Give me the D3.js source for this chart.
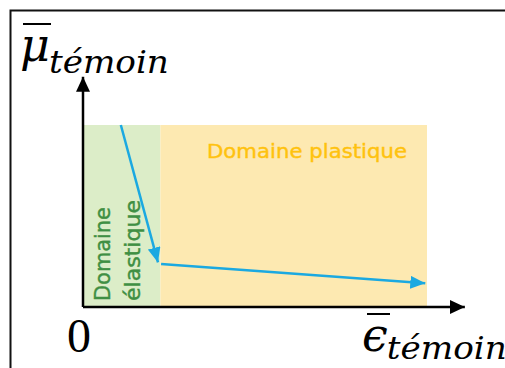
<!DOCTYPE html>
<html>
<head>
<meta charset="utf-8">
<script src="https://cdn.jsdelivr.net/npm/d3@7"></script>
<style>
html,body{margin:0;padding:0;background:#fff;}
svg{display:block;}
</style>
</head>
<body>
<svg id="chart" width="505" height="368"></svg>
<script>
// Domains (regions) along the strain axis
const domainNames = ["Domaine élastique", "Domaine plastique"];
const domainStart = [0, 0.225];
const domainEnd = [0.225, 1];
const domainColors = ["#dcedc8", "#fde9b1"];

// Curve segments (each drawn as an arrow)
const seg1Eps = [0.11, 0.218];
const seg1Mu = [1, 0.245];
const seg2Eps = [0.227, 0.995];
const seg2Mu = [0.236, 0.13];

// Axis labels
const yLabelMain = "μ";
const xLabelMain = "ϵ";
const labelSub = "témoin";
const originLabel = "0";

const svg = d3.select("#chart");
const x = d3.scaleLinear().domain([0, 1]).range([83, 427]);
const y = d3.scaleLinear().domain([0, 1]).range([307, 125]);

// outer frame
svg.append("rect").attr("x", 10.5).attr("y", 10.5).attr("width", 510).attr("height", 380)
  .attr("fill", "none").attr("stroke", "#111").attr("stroke-width", 2);

const defs = svg.append("defs");
function marker(id, color, len, wid) {
  defs.append("marker").attr("id", id).attr("markerUnits", "userSpaceOnUse")
    .attr("viewBox", `0 0 ${len} ${wid}`).attr("refX", len).attr("refY", wid / 2)
    .attr("markerWidth", len).attr("markerHeight", wid).attr("orient", "auto")
    .append("path").attr("d", `M0,0L${len},${wid / 2}L0,${wid}Z`).attr("fill", color);
}
marker("blueA", "#1ba9e1", 15, 13);
marker("blackA", "#000", 15, 14);

// domain rectangles
svg.selectAll("rect.dom").data(domainNames).enter().append("rect").attr("class", "dom")
  .attr("x", (d, i) => x(domainStart[i]))
  .attr("y", y(1))
  .attr("width", (d, i) => x(domainEnd[i]) - x(domainStart[i]))
  .attr("height", y(0) - y(1))
  .attr("fill", (d, i) => domainColors[i]);

// domain labels
const elastWords = domainNames[0].split(" ");
const gEl = svg.append("g").attr("transform", "translate(110,301) rotate(-90)");
gEl.append("text").text(elastWords[0]).attr("x", 0).attr("y", 0)
  .attr("font-family", "DejaVu Sans").attr("font-size", 21).attr("fill", "#3f8f43")
  .attr("stroke", "#3f8f43").attr("stroke-width", 0.4)
  .attr("textLength", 94).attr("lengthAdjust", "spacingAndGlyphs");
gEl.append("text").text(elastWords[1]).attr("x", 0).attr("y", 30)
  .attr("font-family", "DejaVu Sans").attr("font-size", 21).attr("fill", "#3f8f43")
  .attr("stroke", "#3f8f43").attr("stroke-width", 0.4)
  .attr("textLength", 101).attr("lengthAdjust", "spacingAndGlyphs");

svg.append("text").text(domainNames[1]).attr("x", 207).attr("y", 158)
  .attr("font-family", "DejaVu Sans").attr("font-size", 19).attr("fill", "#ffc20e")
  .attr("stroke", "#ffc20e").attr("stroke-width", 0.4)
  .attr("textLength", 200).attr("lengthAdjust", "spacingAndGlyphs");

// curve arrows
const line = d3.line().x(d => x(d[0])).y(d => y(d[1]));
svg.append("path").datum(d3.zip(seg1Eps, seg1Mu)).attr("d", line)
  .attr("fill", "none").attr("stroke", "#1ba9e1").attr("stroke-width", 2.5)
  .attr("marker-end", "url(#blueA)");
svg.append("path").datum(d3.zip(seg2Eps, seg2Mu)).attr("d", line)
  .attr("fill", "none").attr("stroke", "#1ba9e1").attr("stroke-width", 2.5)
  .attr("marker-end", "url(#blueA)");

// axes
svg.append("path").datum([[0, 0], [0, 1.265]]).attr("d", line)
  .attr("stroke", "#000").attr("stroke-width", 2.5).attr("marker-end", "url(#blackA)");
svg.append("path").datum([[0, 0], [1.11, 0]]).attr("d", line)
  .attr("stroke", "#000").attr("stroke-width", 2.5).attr("marker-end", "url(#blackA)");

// origin label
svg.append("text").text(originLabel).attr("x", 79).attr("y", 352).attr("text-anchor", "middle")
  .attr("font-family", "Liberation Serif").attr("font-size", 48).attr("fill", "#000");

// axis labels with overbar
function mathLabel(mx, my, main, subY, barW, barDx) {
  const g = svg.append("g");
  const t = g.append("text").attr("x", mx).attr("y", my)
    .attr("font-family", "DejaVu Serif").attr("font-style", "italic").attr("font-size", 46).attr("fill", "#000")
    .text(main);
  const bb = t.node().getBBox();
  g.append("line").attr("x1", mx + barDx).attr("x2", mx + barDx + barW).attr("y1", my - 37).attr("y2", my - 37)
    .attr("stroke", "#000").attr("stroke-width", 2);
  g.append("text").attr("x", mx + bb.width - 1).attr("y", subY)
    .attr("font-family", "DejaVu Serif").attr("font-style", "italic").attr("font-size", 32).attr("fill", "#000")
    .attr("textLength", 120).attr("lengthAdjust", "spacingAndGlyphs")
    .text(labelSub);
}
mathLabel(20, 61, yLabelMain, 73, 28, 3);
mathLabel(362, 351, xLabelMain, 359, 23, 5);
</script>
</body>
</html>
